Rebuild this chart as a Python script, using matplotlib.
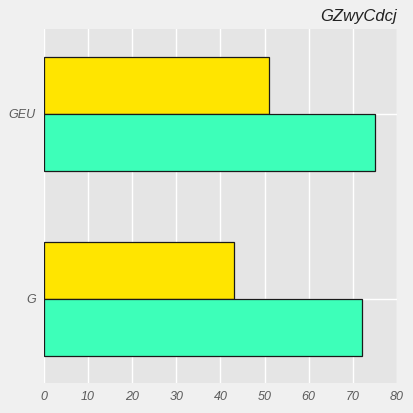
import matplotlib
matplotlib.use("Agg")
import matplotlib.pyplot as plt
import numpy as np

categories = ["G", "GEU"]
series_yellow = [43, 51]
series_green = [72, 75]
xticks = [0, 10, 20, 30, 40, 50, 60, 70, 80]
title = "GZwyCdcj"

plt.rcParams['font.family'] = ['Liberation Sans', 'DejaVu Sans']

fig = plt.figure(figsize=(4.13, 4.13), dpi=100, facecolor="#f0f0f0")
ax = fig.add_axes([0.1065, 0.0726, 0.8545, 0.8574])
ax.set_facecolor("#e5e5e5")

y = np.arange(len(categories))
h = 0.31
ax.barh(y + h / 2, series_yellow, height=h, color="#ffe500", edgecolor="#1a1a1a", linewidth=0.9, zorder=3)
ax.barh(y - h / 2, series_green, height=h, color="#3dffb9", edgecolor="#1a1a1a", linewidth=0.9, zorder=3)

ax.set_xlim(0, 80)
ax.set_ylim(-0.455, 1.46)
ax.set_xticks(xticks)
ax.set_xticklabels([str(t) for t in xticks], fontstyle="italic", color="#5a5a5a", fontsize=9)
ax.set_yticks(y)
ax.set_yticklabels(categories, fontstyle="italic", color="#5a5a5a", fontsize=9)
ax.tick_params(length=0, pad=6)
ax.grid(True, color="white", linewidth=1.0, zorder=0)
ax.set_axisbelow(True)
for s in ax.spines.values():
    s.set_visible(False)

ax.set_title(title, loc="right", fontstyle="italic", fontsize=12, color="#222222", pad=6)

fig.savefig("out.png", dpi=100, facecolor=fig.get_facecolor())
